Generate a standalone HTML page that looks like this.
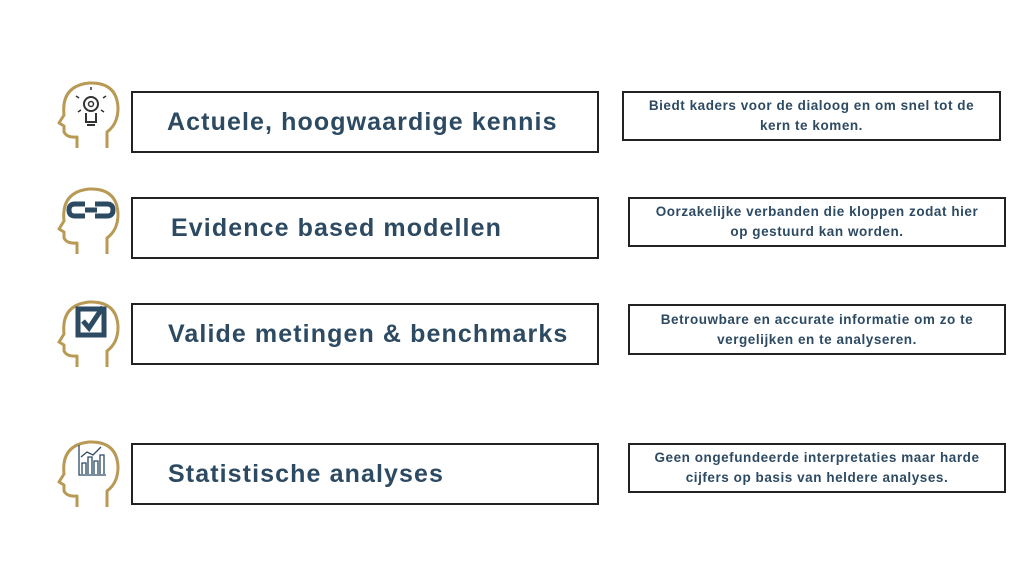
<!DOCTYPE html>
<html><head><meta charset="utf-8"><style>
body{margin:0;width:1024px;height:576px;background:#fff;position:relative;overflow:hidden;font-family:"Liberation Sans",sans-serif;}
.b{position:absolute;border:2px solid #222;box-sizing:border-box;color:#2d4a63;font-weight:bold;}
.l{font-size:25px;letter-spacing:1.1px;display:flex;align-items:center;white-space:nowrap;}
.r{font-size:13.5px;letter-spacing:0.55px;text-align:center;line-height:20px;display:flex;align-items:center;justify-content:center;white-space:nowrap;}
svg{position:absolute;}
</style></head><body>
<svg width="0" height="0"><defs><path id="h" d="M22 70 L22 59 Q12 60 9 54 L9 48 L4 45 L9 37 Q6 8 34 5 Q62 4 63 30 Q63 46 52 54 L52 70" fill="none" stroke="#b89a55" stroke-width="3" stroke-linejoin="round"/></defs></svg>

<svg style="left:55px;top:78px" width="70" height="74"><use href="#h"/>
<circle cx="36" cy="26" r="7" fill="none" stroke="#333" stroke-width="2"/><circle cx="36" cy="26" r="2.5" fill="none" stroke="#333" stroke-width="1.5"/>
<path d="M31 35 L31 44 L41 44 L41 35 M32 47 L40 47" stroke="#333" stroke-width="2" fill="none"/>
<path d="M24 20 L21 18 M48 20 L51 18 M36 12 L36 9 M26 32 L23 34 M46 32 L49 34" stroke="#333" stroke-width="1.5"/></svg>
<div class="b l" style="left:131px;top:91px;width:468px;height:62px;padding-left:34px">Actuele, hoogwaardige kennis</div>
<div class="b r" style="left:622px;top:91px;width:379px;height:50px">Biedt kaders voor de dialoog en om snel tot de<br>kern te komen.</div>

<svg style="left:55px;top:184px" width="70" height="74"><use href="#h"/>
<path d="M30 20 L20 20 Q14 20 14 26 Q14 32 20 32 L30 32 M40 20 L52 20 Q58 20 58 26 Q58 32 52 32 L40 32 M30 26 L42 26" fill="none" stroke="#2d4a63" stroke-width="5"/></svg>
<div class="b l" style="left:131px;top:197px;width:468px;height:62px;padding-left:38px">Evidence based modellen</div>
<div class="b r" style="left:628px;top:197px;width:378px;height:50px">Oorzakelijke verbanden die kloppen zodat hier<br>op gestuurd kan worden.</div>

<svg style="left:55px;top:297px" width="70" height="74"><use href="#h"/>
<rect x="23" y="12" width="26" height="26" fill="none" stroke="#2d4a63" stroke-width="5"/>
<path d="M28 24 L34 31 L48 10" fill="none" stroke="#2d4a63" stroke-width="5"/></svg>
<div class="b l" style="left:131px;top:303px;width:468px;height:62px;padding-left:35px">Valide metingen &amp; benchmarks</div>
<div class="b r" style="left:628px;top:304px;width:378px;height:51px">Betrouwbare en accurate informatie om zo te<br>vergelijken en te analyseren.</div>

<svg style="left:55px;top:437px" width="70" height="74"><use href="#h"/>
<path d="M24 8 L24 38 L51 38 M27 37 L27 26 L31 26 L31 37 M33 37 L33 20 L37 20 L37 37 M39 37 L39 24 L43 24 L43 37 M45 37 L45 18 L49 18 L49 37 M26 20 L32 15 L38 18 L46 10" fill="none" stroke="#2d4a63" stroke-width="1.3"/></svg>
<div class="b l" style="left:131px;top:443px;width:468px;height:62px;padding-left:35px">Statistische analyses</div>
<div class="b r" style="left:628px;top:443px;width:378px;height:50px">Geen ongefundeerde interpretaties maar harde<br>cijfers op basis van heldere analyses.</div>
</body></html>
